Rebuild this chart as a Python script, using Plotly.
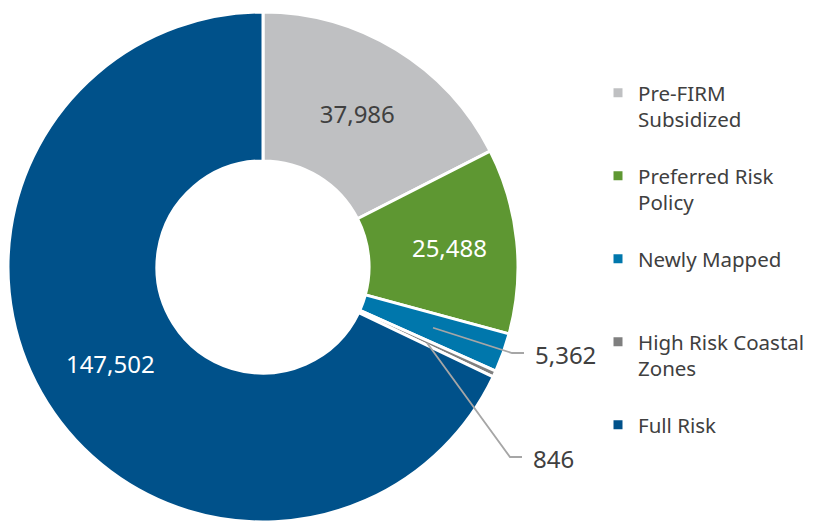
import math
import plotly.graph_objects as go

# ---- data ----
categories = ["Pre-FIRM<br>Subsidized", "Preferred Risk<br>Policy", "Newly Mapped",
              "High Risk Coastal<br>Zones", "Full Risk"]
values = [37986, 25488, 5362, 846, 147502]
colors = ["#BFC0C2", "#5E9732", "#0077AC", "#7F7F7F", "#00518A"]
label_colors = ["#404040", "#FFFFFF", "#FFFFFF", "#FFFFFF", "#FFFFFF"]
outside = [False, False, True, True, False]

W, H = 815, 522
FONT = "Noto Sans"

# pie geometry (pixels)
cx, cy, R = 263, 267, 255
hole = 0.416

# legend labels padded to three lines so that items are evenly spaced
def pad(lbl):
    n = lbl.count("<br>") + 1
    return lbl + "<br> " * (3 - n)

legend_labels = [pad(c) for c in categories]
texts = ["" if o else f"{v:,}" for v, o in zip(values, outside)]

fig = go.Figure(go.Pie(
    labels=legend_labels,
    values=values,
    text=texts,
    textinfo="text",
    textposition="inside",
    insidetextorientation="horizontal",
    insidetextfont=dict(family=FONT, size=24, color=label_colors),
    marker=dict(colors=colors, line=dict(color="white", width=3)),
    hole=hole,
    sort=False,
    direction="clockwise",
    rotation=0,
    hoverinfo="label+value",
    domain=dict(x=[(cx - R) / W, (cx + R) / W], y=[(H - cy - R) / H, (H - cy + R) / H]),
))

# leader lines for the small slices, computed from the data angles
total = sum(values)
elbows = {2: (512, 353), 3: (510, 457)}
cum = 0
shapes, annotations = [], []
px = lambda x: x / W
py = lambda y: 1 - y / H
for i, v in enumerate(values):
    mid = (cum + v / 2) / total * 2 * math.pi
    cum += v
    if not outside[i]:
        continue
    rm = R * (1 + hole) / 2
    sx, sy = cx + rm * math.sin(mid), cy - rm * math.cos(mid)
    ex, ey = elbows[i]
    path = f"M {px(sx)},{py(sy)} L {px(ex)},{py(ey)} L {px(ex + 12)},{py(ey)}"
    shapes.append(dict(type="path", xref="paper", yref="paper", path=path,
                       line=dict(color="#A6A6A6", width=1.8)))
    annotations.append(dict(xref="paper", yref="paper", x=px(ex + 21), y=py(ey + 1),
                            xanchor="left", yanchor="middle", showarrow=False,
                            text=f"{v:,}", font=dict(family=FONT, size=24, color="#404040")))

fig.update_layout(
    width=W, height=H,
    margin=dict(l=0, r=0, t=0, b=0, autoexpand=False),
    paper_bgcolor="white", plot_bgcolor="white",
    showlegend=True,
    legend=dict(x=598 / W, xanchor="left", y=1 - 73 / H, yanchor="top",
                valign="top", font=dict(family=FONT, size=20.5, color="#404040"),
                bgcolor="rgba(0,0,0,0)"),
    shapes=shapes,
    annotations=annotations,
)

fig.write_html("out.html", config={"displayModeBar": False},
               post_script="document.body.style.margin='0';")
